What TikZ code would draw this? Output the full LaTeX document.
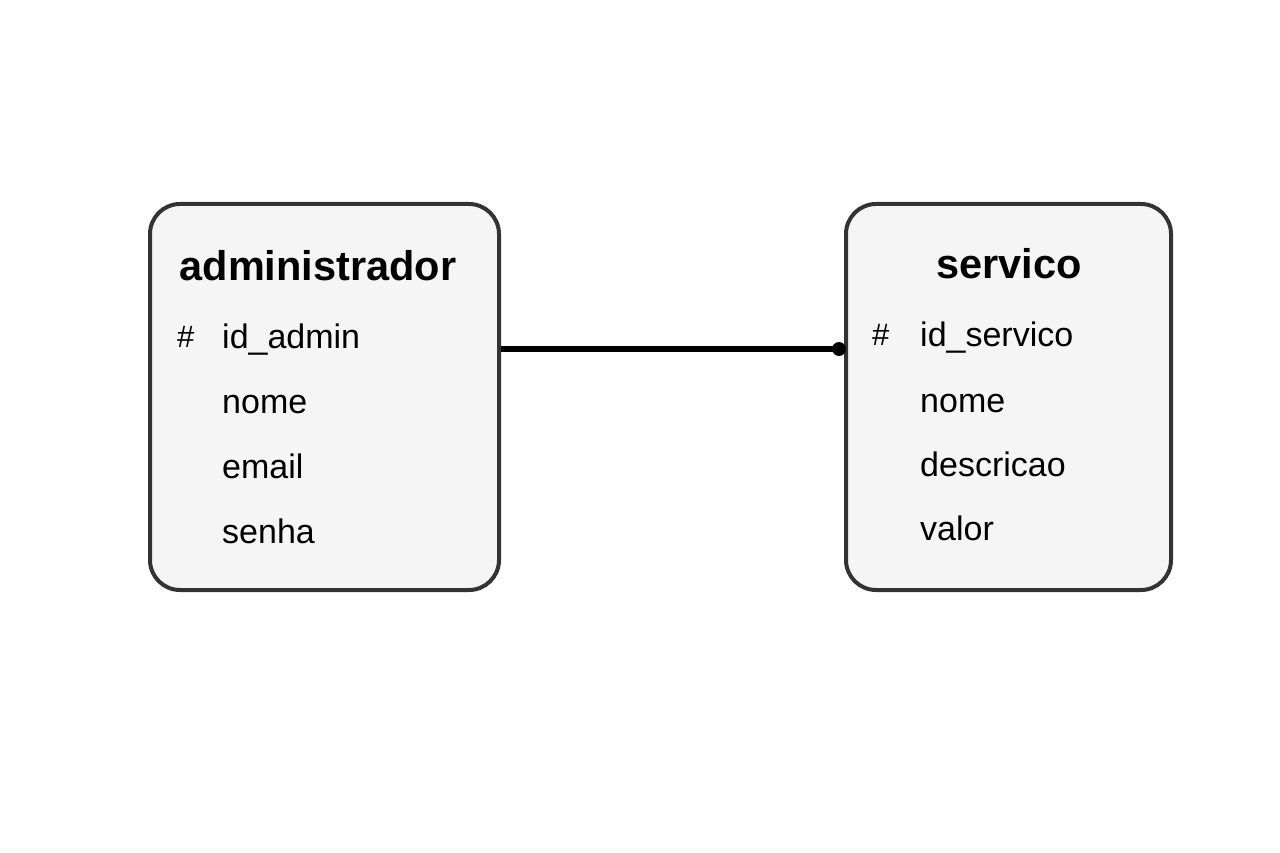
\documentclass[tikz,border=0pt]{standalone}
\usepackage{fontspec}
\setmainfont{Liberation Sans}
\begin{document}
\begin{tikzpicture}[x=1pt,y=-1pt,
  entity/.style={draw=black!80, line width=4pt, fill=black!4, rounded corners=30pt},
  title/.style={anchor=base, font=\fontsize{41.5}{48}\selectfont\bfseries, inner sep=0pt},
  field/.style={anchor=base west, font=\fontsize{34}{40}\selectfont, inner sep=0pt},
  key/.style={anchor=base west, font=\fontsize{31}{36}\selectfont, inner sep=0pt},
  rel/.style={line width=6pt, black}]
\useasboundingbox (0,0) rectangle (1280,853);
\node[entity, minimum width=349pt, minimum height=386pt, anchor=north west] (adm) at (148,202) {};
\node[entity, minimum width=325pt, minimum height=386pt, anchor=north west] (srv) at (844,202) {};
\node[title] (admt) at (318,280) {administrador};
\node[key] (admk) at (177,347) {\#};
\node[field] (adm1) at (222,348) {id\_admin};
\node[field] (adm2) at (222,413) {nome};
\node[field] (adm3) at (222,478) {email};
\node[field] (adm4) at (222,543) {senha};
\node[title] (srvt) at (1009,278) {servico};
\node[key] (srvk) at (872,345) {\#};
\node[field] (srv1) at (920,346) {id\_servico};
\node[field] (srv2) at (920,412) {nome};
\node[field] (srv3) at (920,476) {descricao};
\node[field] (srv4) at (920,540) {valor};
\coordinate (a) at (adm.east |- 0,349);
\coordinate (b) at (srv.west |- 0,349);
\draw[rel] (a) -- ([xshift=-4pt]b);
\fill (b) ++(-5pt,0) circle (7pt);
\end{tikzpicture}
\end{document}
